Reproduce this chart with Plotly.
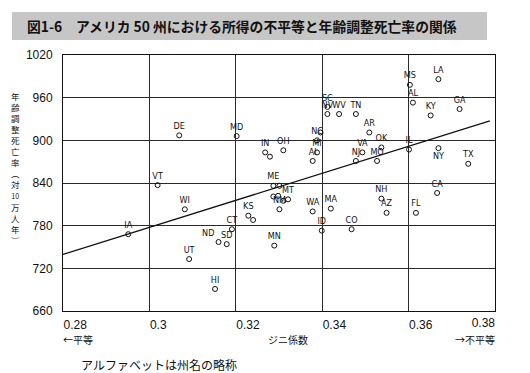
import plotly.graph_objects as go

# ---------------- data ----------------
labels = ["DE", "VT", "SC", "NV", "WV", "TN", "MD", "IN", "", "OH",
          "", "NC", "MI", "AI", "AR", "VA", "NJ", "MO", "OK", "IL",
          "MS", "LA", "AL", "GA", "KY", "NY", "TX", "CA", "NH", "AZ",
          "FL", "WA", "MA", "ID", "CO", "ME", "", "", "", "MT",
          "", "NM", "KS", "", "MN", "CT", "ND", "SD", "HI", "UT",
          "WI", "IA"]
gini = [0.3069, 0.3019, 0.3412, 0.3412, 0.3439, 0.3478, 0.3202, 0.3268, 0.3279, 0.3310,
        0.3396, 0.3388, 0.3388, 0.3378, 0.3509, 0.3493, 0.3478, 0.3527, 0.3537, 0.3601,
        0.3603, 0.3669, 0.3610, 0.3718, 0.3651, 0.3669, 0.3738, 0.3666, 0.3537, 0.3549,
        0.3617, 0.3378, 0.3420, 0.3399, 0.3468, 0.3287, 0.3301, 0.3287, 0.3298, 0.3321,
        0.3310, 0.3301, 0.3229, 0.3240, 0.3289, 0.3191, 0.3160, 0.3179, 0.3152, 0.3092,
        0.3082, 0.2951]
mortality = [907, 837, 947, 937, 937, 937, 906, 883, 877, 886,
             911, 900, 883, 871, 911, 883, 871, 871, 890, 887,
             978, 986, 953, 944, 935, 889, 867, 826, 818, 798,
             798, 800, 804, 773, 775, 836, 836, 821, 822, 817,
             815, 803, 794, 788, 752, 775, 757, 754, 691, 733,
             803, 768]
below_labels = ["NY"]
left_labels = ["ND"]

fit_x = [0.28, 0.3788]
fit_y = [739.7, 927.2]

x_ticks = [0.28, 0.30, 0.32, 0.34, 0.36]
x_ticktext = ["0.28", "0.3", "0.32", "0.34", "0.36"]
x_last_tick = [0.38]
x_last_text = ["0.38"]
y_ticks = [660, 720, 780, 840, 900, 960, 1020]

title_text = "図1-6　アメリカ 50 州における所得の不平等と年齢調整死亡率の関係"
y_title_chars = ["年", "齢", "調", "整", "死", "亡", "率", "︵", "対", "10", "万", "人", "年", "︶"]
x_title = "ジニ係数"
left_note = "←平等"
right_note = "→不平等"
footnote = "アルファベットは州名の略称"

# ---------------- layout helpers ----------------
W, H = 530, 373
ML, MR, MT, MB = 63, 35, 55, 62
PW, PH = W - ML - MR, H - MT - MB


def px2x(px):
    return (px - ML) / PW


def py2y(py):
    return (H - MB - py) / PH


jp = "Noto Sans CJK JP"
num_font = "Liberation Sans, Arial, sans-serif"
lab_font = "Liberation Sans Narrow, DejaVu Sans Condensed, Liberation Sans, sans-serif"


def text_pos(label):
    if label in below_labels:
        return "bottom center"
    if label in left_labels:
        return "top left"
    return "top center"


positions = [text_pos(l) for l in labels]

fig = go.Figure()
fig.add_trace(go.Scatter(
    x=gini, y=mortality, mode="markers+text", text=labels,
    textposition=positions,
    textfont=dict(family=lab_font, size=9, color="#111"),
    marker=dict(symbol="circle-open", size=5, color="#111", line=dict(width=1, color="#111")),
    showlegend=False, hoverinfo="skip", cliponaxis=False,
))
fig.add_trace(go.Scatter(
    x=fit_x, y=fit_y, mode="lines", xaxis="x2",
    line=dict(color="#111", width=1.3), showlegend=False, hoverinfo="skip",
))

# vertical (upright) y-axis title: one text, one glyph per line
y_title_html = "<br>".join(
    ('<span style="font-size:7px">%s</span>' % ch) if ch == "10" else ch for ch in y_title_chars
)

annotations = [
    dict(text="<b>" + title_text + "</b>", xref="paper", yref="paper",
         x=px2x(25), y=py2y(26), xanchor="left", yanchor="middle",
         showarrow=False, font=dict(family=jp, size=13.8, color="#111")),
    dict(text=left_note, xref="paper", yref="paper", x=px2x(62), y=py2y(339),
         xanchor="left", yanchor="middle", showarrow=False, borderpad=0,
         font=dict(family=jp, size=10, color="#111")),
    dict(text=x_title, xref="paper", yref="paper", x=px2x(288), y=py2y(339),
         xanchor="center", yanchor="middle", showarrow=False, borderpad=0,
         font=dict(family=jp, size=10, color="#111")),
    dict(text=right_note, xref="paper", yref="paper", x=px2x(496), y=py2y(339),
         xanchor="right", yanchor="middle", showarrow=False, borderpad=0,
         font=dict(family=jp, size=10, color="#111")),
    dict(text=footnote, xref="paper", yref="paper", x=px2x(80), y=py2y(364.5),
         xanchor="left", yanchor="middle", showarrow=False, borderpad=0,
         font=dict(family=jp, size=12, color="#111")),
    dict(text=y_title_html, xref="paper", yref="paper", x=px2x(15.5), y=py2y(168),
         xanchor="center", yanchor="middle", showarrow=False, align="center",
         font=dict(family=jp, size=8.5, color="#111")),
]

shapes = [
    dict(type="rect", xref="paper", yref="paper", x0=px2x(12), x1=px2x(487),
         y0=py2y(40), y1=py2y(12), fillcolor="#c6c6c6", line=dict(width=0), layer="below"),
]

fig.update_layout(
    width=W, height=H,
    margin=dict(l=ML, r=MR, t=MT, b=MB),
    paper_bgcolor="white", plot_bgcolor="white",
    xaxis=dict(range=[0.28, 0.38], tickvals=x_ticks, ticktext=x_ticktext,
               ticklabelposition="outside right", ticks="", ticklabelstandoff=3,
               showgrid=True, gridcolor="#2a2a2a", gridwidth=1, zeroline=False,
               showline=True, linecolor="#111", linewidth=1, mirror=True,
               tickfont=dict(family=num_font, size=12, color="#111")),
    xaxis2=dict(range=[0.28, 0.38], overlaying="x", anchor="y", side="bottom",
                tickvals=x_last_tick, ticktext=x_last_text,
                ticklabelposition="outside left", ticks="", ticklabelstandoff=3,
                showgrid=False, zeroline=False, showline=False,
                tickfont=dict(family=num_font, size=12, color="#111")),
    yaxis=dict(range=[660, 1020], tickvals=y_ticks, ticks="", ticklabelstandoff=7,
               showgrid=True, gridcolor="#2a2a2a", gridwidth=1, zeroline=False,
               showline=True, linecolor="#111", linewidth=1, mirror=True,
               tickfont=dict(family=num_font, size=12, color="#111")),
    annotations=annotations,
    shapes=shapes,
)

fig.write_html("out.html", config={"displayModeBar": False},
               post_script="document.body.style.margin='0px';")
